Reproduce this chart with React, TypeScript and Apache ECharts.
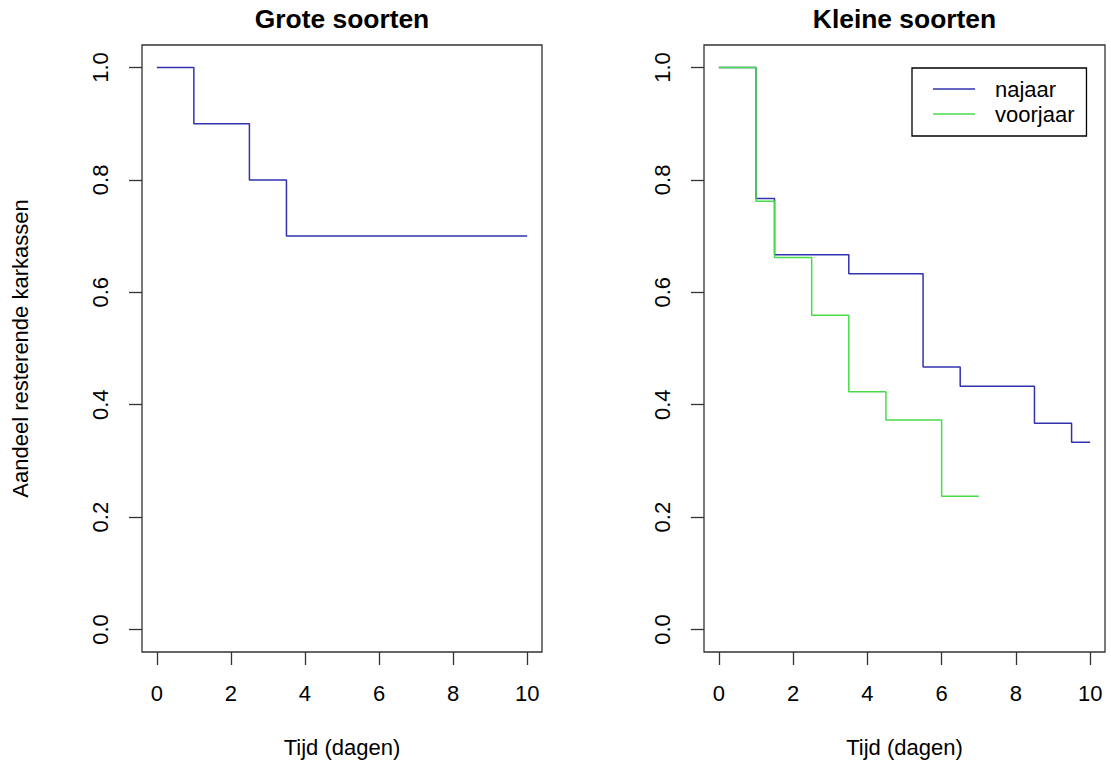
import React, { useEffect, useRef } from "react";
import * as echarts from "echarts";

const xTicks = [0, 2, 4, 6, 8, 10];
const yTicks = [0, 0.2, 0.4, 0.6, 0.8, 1.0];

const groteTime = [0, 1, 2.5, 3.5, 10];
const groteSurv = [1.0, 0.9, 0.8, 0.7, 0.7];

const najaarTime = [0, 1, 1.5, 3.5, 5.5, 6.5, 8.5, 9.5, 10];
const najaarSurv = [1.0, 0.767, 0.667, 0.633, 0.467, 0.433, 0.367, 0.333, 0.333];

const voorjaarTime = [0, 1, 1.5, 2.5, 3.5, 4.5, 6, 7];
const voorjaarSurv = [1.0, 0.762, 0.662, 0.559, 0.423, 0.373, 0.237, 0.237];

const titles = ["Grote soorten", "Kleine soorten"];
const xName = "Tijd (dagen)";
const yName = "Aandeel resterende karkassen";

const FONT = "'Liberation Sans', Arial, sans-serif";
const BLUE = "#3232ae";
const GREEN = "#48dc48";

const zip = (a: number[], b: number[]) => a.map((v, i) => [v, b[i]]);

export default function App() {
  const ref = useRef<HTMLDivElement>(null);
  useEffect(() => {
    if (!ref.current) return;
    const chart = echarts.init(ref.current, undefined, { renderer: "svg" });
    const grids = [
      { left: 142, top: 45, width: 400, height: 607 },
      { left: 704, top: 45, width: 401, height: 607 },
    ];
    const mkX = (i: number) => ({
      type: "value",
      gridIndex: i,
      position: "bottom",
      min: -0.4,
      max: 10.4,
      name: xName,
      nameLocation: "middle",
      nameGap: 84,
      nameTextStyle: { fontSize: 22, color: "#000", fontFamily: FONT },
      axisLine: { show: false, onZero: false },
      splitLine: { show: false },
      axisTick: {
        show: true,
        inside: false,
        length: 13,
        customValues: xTicks,
        lineStyle: { color: "#333", width: 1.3 },
      },
      axisLabel: {
        customValues: xTicks,
        margin: 30,
        fontSize: 22,
        color: "#000",
        fontFamily: FONT,
        formatter: (v: number) => String(v),
      },
    });
    const mkY = (i: number) => ({
      type: "value",
      gridIndex: i,
      position: "left",
      min: -0.04,
      max: 1.04,
      name: i === 0 ? yName : "",
      nameLocation: "middle",
      nameGap: 111,
      nameTextStyle: { fontSize: 22, color: "#000", fontFamily: FONT },
      axisLine: { show: false, onZero: false },
      splitLine: { show: false },
      axisTick: {
        show: true,
        inside: false,
        length: 13,
        customValues: yTicks,
        lineStyle: { color: "#333", width: 1.3 },
      },
      axisLabel: {
        customValues: yTicks,
        rotate: 90,
        margin: 31,
        fontSize: 22,
        color: "#000",
        fontFamily: FONT,
        formatter: (v: number) => v.toFixed(1),
      },
    });
    chart.setOption({
      animation: false,
      backgroundColor: "#fff",
      grid: grids.map((g) => ({
        ...g,
        show: true,
        borderColor: "#333",
        borderWidth: 1.3,
        backgroundColor: "transparent",
      })),
      xAxis: [mkX(0), mkX(1)],
      yAxis: [mkY(0), mkY(1)],
      legend: {
        data: ["najaar", "voorjaar"],
        orient: "vertical",
        left: 912,
        top: 68,
        padding: [10, 12, 11, 21],
        itemGap: 3,
        icon: "rect",
        itemWidth: 42,
        itemHeight: 1.5,
        borderColor: "#000",
        borderWidth: 1.3,
        borderRadius: 0,
        textStyle: {
          fontSize: 22,
          lineHeight: 22,
          color: "#000",
          fontFamily: FONT,
          padding: [0, 0, 0, 15],
        },
      },
      graphic: titles.map((t, i) => ({
        type: "text",
        x: grids[i].left + grids[i].width / 2,
        y: 19,
        style: {
          text: t,
          fontSize: 26.4,
          fontWeight: "bold",
          fontFamily: FONT,
          fill: "#000",
          align: "center",
          verticalAlign: "middle",
        },
      })),
      series: [
        {
          name: "grote",
          type: "line",
          xAxisIndex: 0,
          yAxisIndex: 0,
          step: "end",
          symbol: "none",
          color: BLUE,
          lineStyle: { color: BLUE, width: 1.5 },
          data: zip(groteTime, groteSurv),
        },
        {
          name: "najaar",
          type: "line",
          xAxisIndex: 1,
          yAxisIndex: 1,
          step: "end",
          symbol: "none",
          color: BLUE,
          lineStyle: { color: BLUE, width: 1.5 },
          data: zip(najaarTime, najaarSurv),
        },
        {
          name: "voorjaar",
          type: "line",
          xAxisIndex: 1,
          yAxisIndex: 1,
          step: "end",
          symbol: "none",
          color: GREEN,
          lineStyle: { color: GREEN, width: 1.5 },
          data: zip(voorjaarTime, voorjaarSurv),
        },
      ],
    });
    return () => chart.dispose();
  }, []);
  return (
    <div
      ref={ref}
      style={{ position: "fixed", left: 0, top: 0, width: 1111, height: 764 }}
    />
  );
}
